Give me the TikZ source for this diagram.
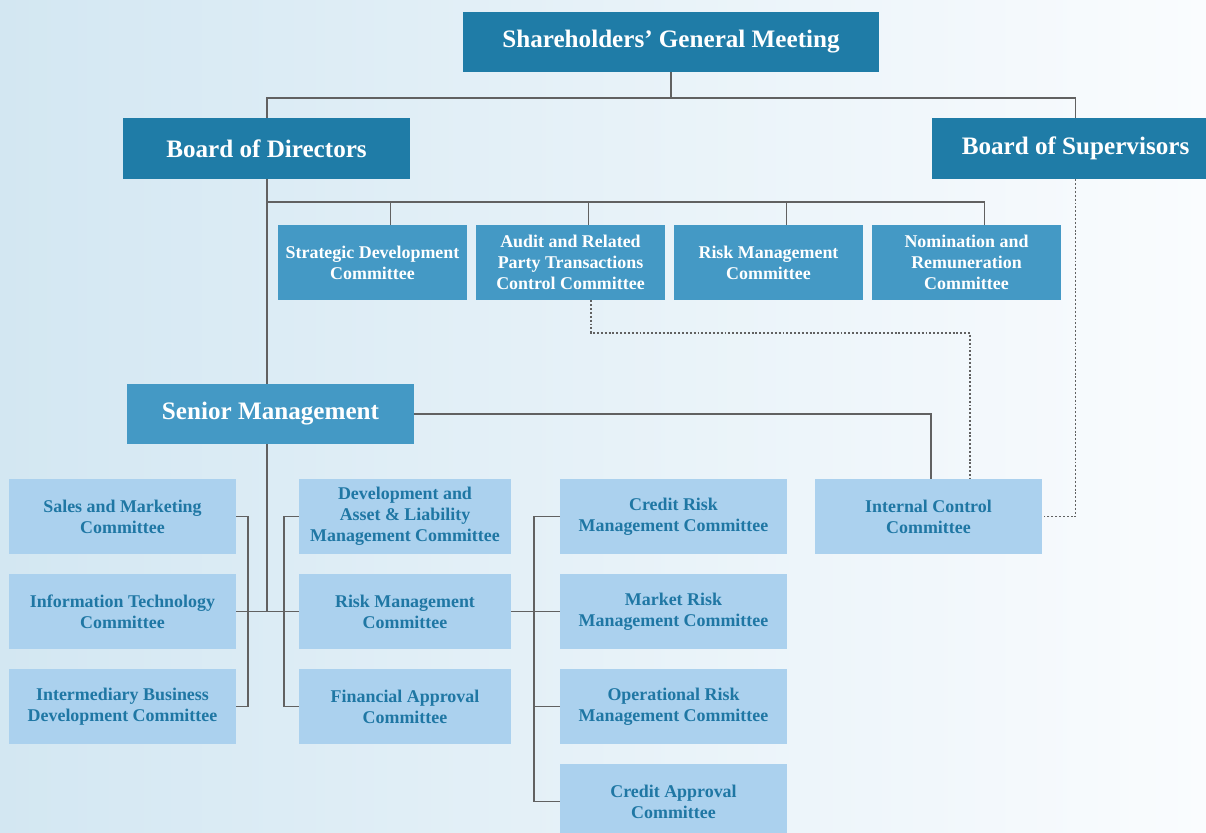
\documentclass[tikz,border=0pt]{standalone}
\usepackage{fontspec}
\setmainfont{Liberation Serif}
\usepackage{tikz}
\usetikzlibrary{positioning,calc}

\definecolor{darkteal}{HTML}{1F7CA7}
\definecolor{midteal}{HTML}{4499C5}
\definecolor{paleteal}{HTML}{ABD1EE}
\definecolor{inkteal}{HTML}{1F77A4}
\definecolor{linkgray}{HTML}{616161}
\definecolor{bgleft}{HTML}{D3E7F2}
\definecolor{bgright}{HTML}{FAFCFE}

\tikzset{
  topbox/.style={fill=darkteal, text=white, minimum width=5.74cm, minimum height=1.22cm,
    font=\fontsize{14.3}{16}\selectfont\bfseries, inner sep=0pt},
  boardcom/.style={fill=midteal, text=white, minimum width=3.78cm, minimum height=1.5cm,
    align=center, font=\fontsize{10.2}{12}\selectfont\bfseries, inner sep=0pt},
  mgmtcom/.style={fill=paleteal, text=inkteal, minimum width=4.54cm, minimum height=1.5cm,
    align=center, font=\fontsize{10.2}{12}\selectfont\bfseries, inner sep=0pt},
  link/.style={draw=linkgray, line width=1pt},
  oversight/.style={draw=linkgray, line width=1pt, dash pattern=on 1.1pt off 1.1pt}
}

\begin{document}
\begin{tikzpicture}[x=0.02cm, y=-0.02cm]
\clip (0,0) rectangle (1206,832);
\shade[left color=bgleft, right color=bgright] (0,0) rectangle (1206,832);

% Governing bodies
\node[topbox, minimum width=8.32cm, minimum height=1.2cm] (sgm) at (671,42) {Shareholders’ General Meeting};
\node[topbox] (bod) at (266.5,148.5) {Board of Directors};
\node[topbox] (bos) at (1075.5,148.5) {Board of Supervisors};

% Board committees
\node[boardcom] (sdc) at (372.5,262.5) {Strategic Development\\Committee};
\node[boardcom] (arp) at (570.5,262.5) {Audit and Related\\Party Transactions\\Control Committee};
\node[boardcom] (rmc) at (768.5,262.5) {Risk Management\\Committee};
\node[boardcom] (nrc) at (966.5,262.5) {Nomination and\\Remuneration\\Committee};

% Senior management and its committees
\node[boardcom, minimum width=5.74cm, minimum height=1.2cm, font=\fontsize{14.3}{16}\selectfont\bfseries] (sm) at (270.5,414) {Senior Management};
\node[mgmtcom] (icc) at (928.5,516.5) {Internal Control\\Committee};

\node[mgmtcom] (smc) at (122.5,516.5) {Sales and Marketing\\Committee};
\node[mgmtcom] (itc) at (122.5,611.5) {Information Technology\\Committee};
\node[mgmtcom] (ibd) at (122.5,706.5) {Intermediary Business\\Development Committee};

\node[mgmtcom, minimum width=4.24cm] (dal) at (405,516.5) {Development and\\Asset \& Liability\\Management Committee};
\node[mgmtcom, minimum width=4.24cm] (rmg) at (405,611.5) {Risk Management\\Committee};
\node[mgmtcom, minimum width=4.24cm] (fac) at (405,706.5) {Financial Approval\\Committee};

\node[mgmtcom] (crm) at (673.5,516.5) {Credit Risk\\Management Committee};
\node[mgmtcom] (mrm) at (673.5,611.5) {Market Risk\\Management Committee};
\node[mgmtcom] (orm) at (673.5,706.5) {Operational Risk\\Management Committee};
\node[mgmtcom] (cac) at (673.5,801.5) {Credit Approval\\Committee};

% Reporting lines
\coordinate (topbus) at (671,98);
\coordinate (combus) at (267,202);
\coordinate (hub) at (267,612);
\draw[link] (sgm) -- (topbus);
\draw[link] (bod.north -| combus) |- (topbus) -| (bos.north);
\draw[link] (bod.south -| combus) -- (sm.north -| combus);
\draw[link] (sm.south -| combus) -- (hub);
\draw[link] (combus) -| ([xshift=0.36cm]nrc.north);
\foreach \c in {sdc,arp,rmc}
  \draw[link] ([xshift=0.36cm]\c.north) -- ([xshift=0.36cm]\c.north |- combus);
\draw[link] (sm.east) -| ([xshift=0.05cm]icc.north);

% Committee brackets
\draw[link] (itc.east) -- (rmg.west);
\draw[link] (smc.east) -- ++(12,0) |- (ibd.east);
\draw[link] (dal.west) -- ++(-15,0) |- (fac.west);
\draw[link] (rmg.east) -- (mrm.west);
\draw[link] (crm.west) -- ++(-26,0) |- (cac.west);
\draw[link] (orm.west) -- ++(-26,0);

% Supervisory lines
\draw[oversight] ([xshift=0.41cm]arp.south) |- (637,333) -| ([xshift=0.83cm]icc.north);
\draw[oversight] (bos.south) |- (icc.east);
\end{tikzpicture}
\end{document}
